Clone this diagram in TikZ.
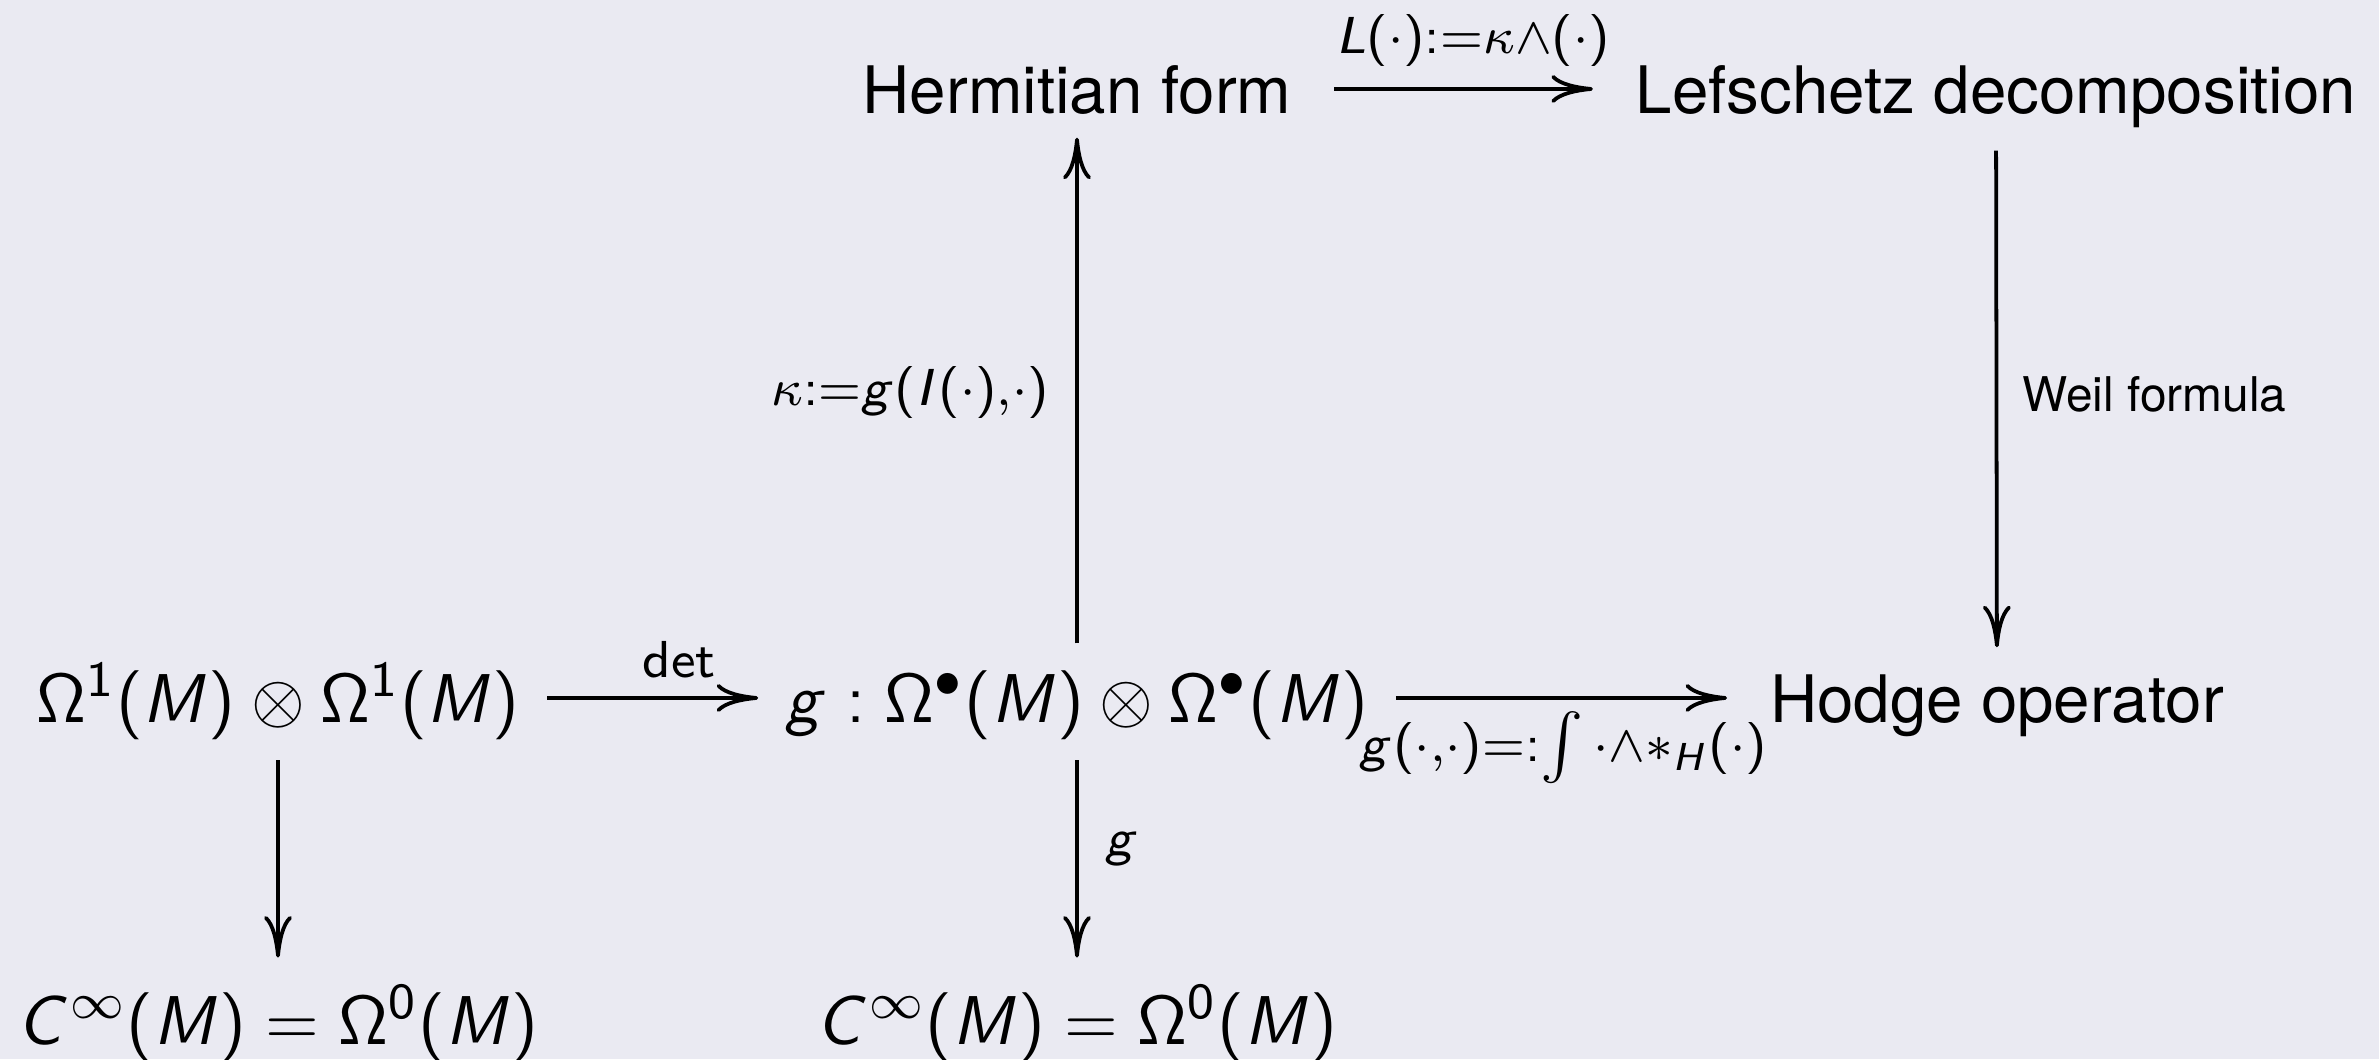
\documentclass[tikz,border=0pt,11pt]{standalone}
\usepackage{graphicx}
\usepackage[no-math]{fontspec}
\setmainfont{TeX Gyre Heros}[Scale=0.92]
\DeclareSymbolFont{operators}{OT1}{cmss}{m}{n}
\DeclareSymbolFont{sfit}{OT1}{cmss}{m}{it}
\DeclareMathSymbol{M}{\mathalpha}{sfit}{`M}
\DeclareMathSymbol{g}{\mathalpha}{sfit}{`g}
\DeclareMathSymbol{C}{\mathalpha}{sfit}{`C}
\DeclareMathSymbol{L}{\mathalpha}{sfit}{`L}
\DeclareMathSymbol{I}{\mathalpha}{sfit}{`I}
\DeclareMathSymbol{H}{\mathalpha}{sfit}{`H}
\newcommand{\mth}[1]{\scalebox{0.97}{$#1$}}
\usetikzlibrary{arrows.meta}
\definecolor{bgcol}{HTML}{EAEAF2}
\begin{document}
\begin{tikzpicture}[x=0.153846pt, y=-0.153846pt,
  arr/.style={line width=0.58pt, -{Computer Modern Rightarrow[length=6.4pt,width=4.3pt]}},
  basenode/.style={anchor=base, inner ysep=0pt, text height=8.5pt, text depth=1.1pt},
  mnode/.style={basenode, inner xsep=4pt},
  tnode/.style={basenode, inner xsep=6.4pt},
  lab/.style={inner sep=0pt},
  tlab/.style={inner sep=0pt, font=\scriptsize}]
\fill[bgcol] (0,0) rectangle (2379,1059);
\useasboundingbox (0,0) rectangle (2379,1059);
% nodes
\node[tnode] (herm) at (1077,113) {Hermitian form};
\node[tnode] (lef) at (1996,113) {Lefschetz decomposition};
\node[mnode] (om1) at (278,722) {\mth{\Omega^1(M)\otimes\Omega^1(M)}};
\node[mnode] (gn) at (1077,722) {\mth{g:\Omega^\bullet(M)\otimes\Omega^\bullet(M)}};
\node[tnode] (hodge) at (1997,722) {Hodge operator};
\node[mnode] (c1) at (278,1044) {\mth{C^\infty(M)=\Omega^0(M)}};
\node[mnode] (c2) at (1077,1044) {\mth{C^\infty(M)=\Omega^0(M)}};
% horizontal arrows
\draw[arr] (herm) -- node[lab, midway, anchor=base, xshift=1.5pt, yshift=5.5pt] {$\scriptstyle L(\cdot):=\kappa\wedge(\cdot)$} (lef);
\draw[arr] (om1) -- node[lab, midway, anchor=base, xshift=4.1pt, yshift=3.2pt] {$\scriptstyle\det$} (gn);
\draw[arr] (gn) -- node[lab, midway, anchor=base, xshift=0.3pt, yshift=-9.7pt] {$\scriptstyle g(\cdot,\cdot)=:\int\cdot\wedge *_H(\cdot)$} (hodge);
% vertical arrows
\draw[arr, shorten <=3.4pt, shorten >=2.5pt] (gn) -- node[lab, midway, anchor=base east, xshift=-4pt, yshift=-1.8pt] {$\scriptstyle\kappa:=g(I(\cdot),\cdot)$} (herm);
\draw[arr, shorten <=4.5pt, shorten >=2.8pt] (lef) -- node[tlab, midway, anchor=base west, xshift=3.7pt, yshift=-2.7pt] {Weil formula} (hodge);
\draw[arr, shorten <=4.6pt, shorten >=4.6pt] (om1) -- (c1);
\draw[arr, shorten <=4.6pt, shorten >=4.6pt] (gn) -- node[lab, midway, anchor=base west, xshift=4.1pt, yshift=0.6pt] {$\scriptstyle g$} (c2);
\end{tikzpicture}
\end{document}
